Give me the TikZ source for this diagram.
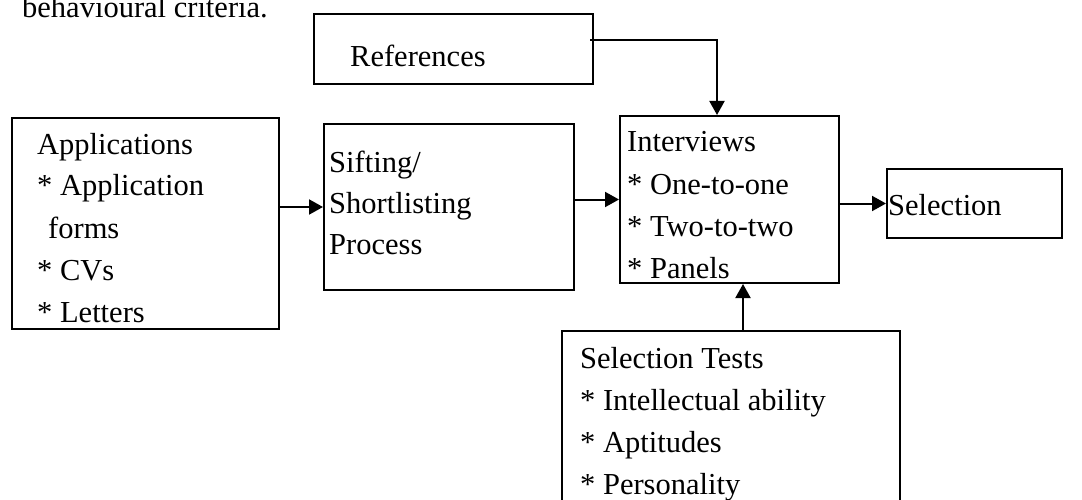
\documentclass[tikz,border=0pt]{standalone}
\usepackage{fontspec}
\setmainfont{Liberation Serif}
\usetikzlibrary{arrows.meta}
\begin{document}
\begin{tikzpicture}[x=1pt,y=-1pt,
  box/.style={draw, line width=2pt, inner sep=0pt, anchor=north west},
  txt/.style={anchor=base west, inner sep=0pt, font=\fontsize{30.5}{42}\selectfont},
  flow/.style={line width=2pt, -{Triangle[length=14pt,width=15pt]}}]
\useasboundingbox (0,0) rectangle (1082,500);

% boxes
\node[box, minimum width=279pt, minimum height=70pt]  (ref)   at (313,13)  {};
\node[box, minimum width=267pt, minimum height=211pt] (app)   at (11,117)  {};
\node[box, minimum width=250pt, minimum height=166pt] (sift)  at (323,123) {};
\node[box, minimum width=219pt, minimum height=167pt] (int)   at (619,115) {};
\node[box, minimum width=175pt, minimum height=69pt]  (sel)   at (886,168) {};
\node[box, minimum width=338pt, minimum height=200pt] (tests) at (561,330) {};

% texts
\node[txt] (crit) at (22,18) {behavioural criteria.};
\node[txt] (reft) at (350,67) {References};

\node[txt] (app1) at (37,154) {Applications};
\node[txt] (app2) at (37,196) {* Application};
\node[txt] (app3) at (48,238) {forms};
\node[txt] (app4) at (37,280) {* CVs};
\node[txt] (app5) at (37,322) {* Letters};

\node[txt] (sif1) at (329,172) {Sifting/};
\node[txt] (sif2) at (329,213) {Shortlisting};
\node[txt] (sif3) at (329,254) {Process};

\node[txt] (int1) at (627,152) {Interviews};
\node[txt] (int2) at (627,194) {* One-to-one};
\node[txt] (int3) at (627,236) {* Two-to-two};
\node[txt] (int4) at (627,278) {* Panels};

\node[txt] (selt) at (888,215) {Selection};

\node[txt] (tst1) at (580,368) {Selection Tests};
\node[txt] (tst2) at (580,410) {* Intellectual ability};
\node[txt] (tst3) at (580,452) {* Aptitudes};
\node[txt] (tst4) at (580,494) {* Personality};

% connectors
\coordinate (refout) at (590,40);
\coordinate (drop) at (717,40);
\coordinate (tup) at (743,330);
\draw[flow] (refout) -- (drop) -- (drop |- int.north);
\draw[flow] (app.east |- sift.west) -- (sift.west);
\draw[flow] (sift.east |- int.west) -- (int.west);
\draw[flow] (int.east |- sel.west) -- (sel.west);
\draw[flow] (tup) -- (tup |- int.south);
\end{tikzpicture}
\end{document}
